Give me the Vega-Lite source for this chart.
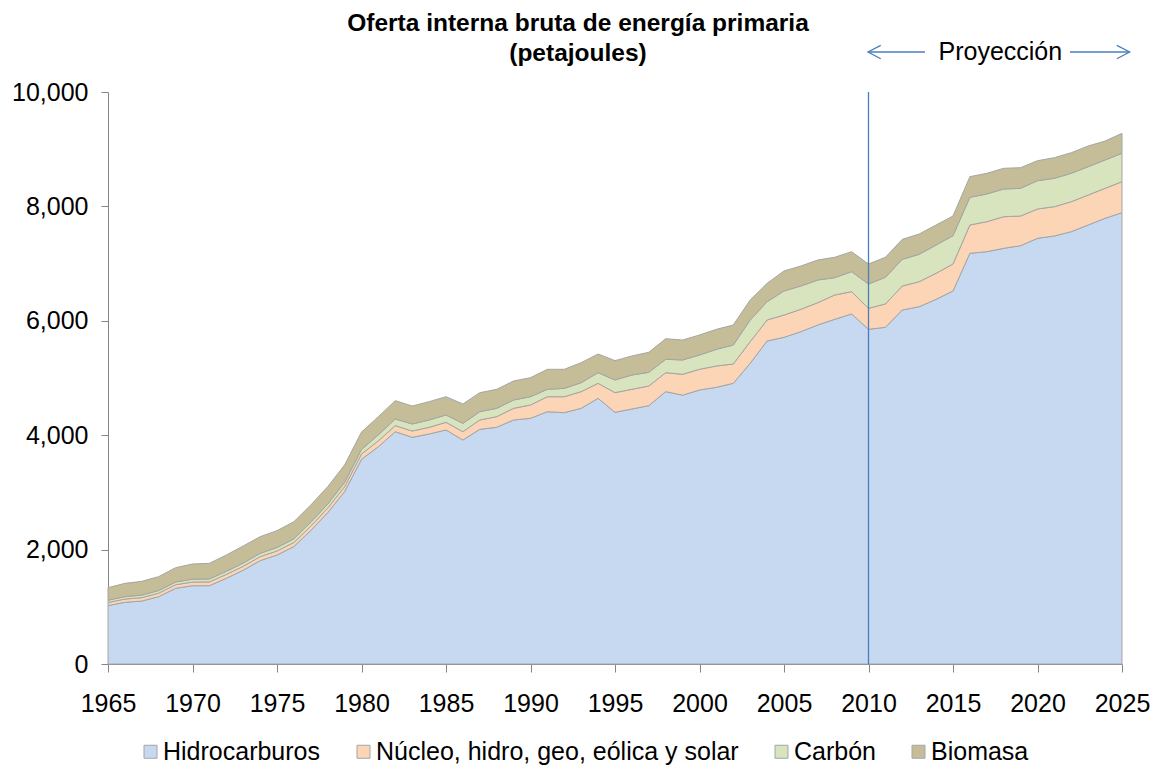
{
  "$schema": "https://vega.github.io/schema/vega-lite/v6.json",
  "width": 1014,
  "height": 572,
  "autosize": {"type": "none"},
  "padding": {"left": 108, "top": 92, "right": 35, "bottom": 108},
  "background": "white",
  "config": {"font": "Liberation Sans", "view": {"stroke": null}},
  "title": {
    "text": ["Oferta interna bruta de energía primaria", "(petajoules)"],
    "font": "Liberation Sans",
    "fontSize": 24.5,
    "fontWeight": "bold",
    "color": "black",
    "anchor": "middle",
    "dx": -37,
    "dy": 52,
    "lineHeight": 30,
    "offset": 26
  },
  "datasets": {
    "energia": [
      {"anio":1965,"H":1020,"N":55,"C":40,"B":219},
      {"anio":1966,"H":1078,"N":57,"C":42,"B":233},
      {"anio":1967,"H":1101,"N":59,"C":44,"B":241},
      {"anio":1968,"H":1177,"N":61,"C":46,"B":243},
      {"anio":1969,"H":1323,"N":62,"C":48,"B":251},
      {"anio":1970,"H":1369,"N":64,"C":50,"B":265},
      {"anio":1971,"H":1369,"N":66,"C":52,"B":273},
      {"anio":1972,"H":1498,"N":68,"C":54,"B":285},
      {"anio":1973,"H":1640,"N":68,"C":56,"B":299},
      {"anio":1974,"H":1806,"N":70,"C":58,"B":292},
      {"anio":1975,"H":1906,"N":70,"C":60,"B":295},
      {"anio":1976,"H":2053,"N":72,"C":63,"B":300},
      {"anio":1977,"H":2335,"N":75,"C":67,"B":303},
      {"anio":1978,"H":2645,"N":80,"C":70,"B":305},
      {"anio":1979,"H":3014,"N":85,"C":75,"B":305},
      {"anio":1980,"H":3578,"N":93,"C":80,"B":304},
      {"anio":1981,"H":3799,"N":103,"C":105,"B":317},
      {"anio":1982,"H":4061,"N":106,"C":116,"B":321},
      {"anio":1983,"H":3963,"N":110,"C":123,"B":314},
      {"anio":1984,"H":4021,"N":117,"C":128,"B":320},
      {"anio":1985,"H":4091,"N":134,"C":128,"B":320},
      {"anio":1986,"H":3916,"N":145,"C":146,"B":338},
      {"anio":1987,"H":4103,"N":163,"C":145,"B":332},
      {"anio":1988,"H":4138,"N":186,"C":146,"B":332},
      {"anio":1989,"H":4266,"N":204,"C":145,"B":333},
      {"anio":1990,"H":4295,"N":233,"C":145,"B":333},
      {"anio":1991,"H":4411,"N":262,"C":129,"B":350},
      {"anio":1992,"H":4394,"N":279,"C":146,"B":333},
      {"anio":1993,"H":4470,"N":291,"C":157,"B":350},
      {"anio":1994,"H":4645,"N":262,"C":186,"B":327},
      {"anio":1995,"H":4400,"N":344,"C":221,"B":338},
      {"anio":1996,"H":4458,"N":344,"C":250,"B":333},
      {"anio":1997,"H":4516,"N":344,"C":239,"B":350},
      {"anio":1998,"H":4761,"N":332,"C":234,"B":360},
      {"anio":1999,"H":4700,"N":364,"C":251,"B":349},
      {"anio":2000,"H":4790,"N":362,"C":250,"B":350},
      {"anio":2001,"H":4837,"N":373,"C":291,"B":350},
      {"anio":2002,"H":4907,"N":338,"C":332,"B":350},
      {"anio":2003,"H":5257,"N":378,"C":379,"B":350},
      {"anio":2004,"H":5647,"N":367,"C":320,"B":321},
      {"anio":2005,"H":5711,"N":390,"C":420,"B":350},
      {"anio":2006,"H":5810,"N":391,"C":407,"B":350},
      {"anio":2007,"H":5927,"N":390,"C":396,"B":350},
      {"anio":2008,"H":6026,"N":425,"C":303,"B":356},
      {"anio":2009,"H":6119,"N":390,"C":350,"B":349},
      {"anio":2010,"H":5851,"N":367,"C":425,"B":350},
      {"anio":2011,"H":5886,"N":408,"C":466,"B":350},
      {"anio":2012,"H":6189,"N":419,"C":467,"B":349},
      {"anio":2013,"H":6247,"N":437,"C":478,"B":355},
      {"anio":2014,"H":6375,"N":455,"C":495,"B":350},
      {"anio":2015,"H":6521,"N":472,"C":495,"B":344},
      {"anio":2016,"H":7180,"N":495,"C":484,"B":361},
      {"anio":2017,"H":7208,"N":525,"C":484,"B":361},
      {"anio":2018,"H":7267,"N":553,"C":484,"B":362},
      {"anio":2019,"H":7313,"N":519,"C":484,"B":361},
      {"anio":2020,"H":7442,"N":513,"C":494,"B":350},
      {"anio":2021,"H":7483,"N":512,"C":496,"B":361},
      {"anio":2022,"H":7558,"N":524,"C":496,"B":361},
      {"anio":2023,"H":7675,"N":524,"C":495,"B":362},
      {"anio":2024,"H":7792,"N":524,"C":495,"B":332},
      {"anio":2025,"H":7890,"N":542,"C":496,"B":349}
    ],
    "series": [
      {"clave":"H","serie":"Hidrocarburos","orden":1},
      {"clave":"N","serie":"Núcleo, hidro, geo, eólica y solar","orden":2},
      {"clave":"C","serie":"Carbón","orden":3},
      {"clave":"B","serie":"Biomasa","orden":4}
    ]
  },
  "layer": [
    {
      "data": {"name": "energia"},
      "transform": [
        {"fold": ["H", "N", "C", "B"], "as": ["clave", "pj"]},
        {"lookup": "clave", "from": {"data": {"name": "series"}, "key": "clave", "fields": ["serie", "orden"]}}
      ],
      "mark": {"type": "area", "stroke": "#A5A5A5", "strokeWidth": 1, "opacity": 1, "interpolate": "linear"},
      "encoding": {
        "x": {
          "field": "anio", "type": "quantitative",
          "scale": {"domain": [1965, 2025], "nice": false, "zero": false},
          "axis": {
            "title": null, "values": [1965,1970,1975,1980,1985,1990,1995,2000,2005,2010,2015,2020,2025],
            "format": "d", "grid": false, "labelFontSize": 25, "labelColor": "black",
            "labelFont": "Liberation Sans",
            "domainColor": "#868686", "tickColor": "#868686", "tickSize": 8, "labelPadding": 19,
            "labelFlush": false, "labelOverlap": false
          }
        },
        "y": {
          "field": "pj", "type": "quantitative", "stack": "zero",
          "scale": {"domain": [0, 10000], "nice": false},
          "axis": {
            "title": null, "values": [0,2000,4000,6000,8000,10000], "format": ",.0f",
            "grid": false, "labelFontSize": 25, "labelColor": "black", "labelFont": "Liberation Sans",
            "domainColor": "#868686", "tickColor": "#868686", "tickSize": 7, "labelPadding": 13
          }
        },
        "color": {
          "field": "serie", "type": "nominal",
          "scale": {
            "domain": ["Hidrocarburos", "Núcleo, hidro, geo, eólica y solar", "Carbón", "Biomasa"],
            "range": ["#C7D9F0", "#FBD5B5", "#D8E4BE", "#C4BD97"]
          },
          "legend": {
            "title": null, "orient": "none", "direction": "horizontal", "columns": 4,
            "legendX": 30, "legendY": 647, "padding": 0,
            "labelFontSize": 25, "labelColor": "black", "labelFont": "Liberation Sans",
            "symbolType": "square", "symbolSize": 169, "symbolStrokeColor": "#A5A5A5", "symbolStrokeWidth": 1,
            "columnPadding": 30, "labelOffset": 0, "labelLimit": 500
          }
        },
        "order": {"field": "orden", "type": "quantitative", "sort": "ascending"}
      }
    },
    {
      "data": {"values": [{}]},
      "mark": {"type": "rule", "color": "#4A7EBB", "strokeWidth": 1.3},
      "encoding": {"x": {"datum": 2010, "type": "quantitative"}}
    },
    {
      "data": {"values": [{}]},
      "mark": {"type": "text", "text": "Proyección", "fontSize": 25, "font": "Liberation Sans", "color": "black", "align": "center", "baseline": "middle", "clip": false},
      "encoding": {"x": {"datum": 2017.8, "type": "quantitative"}, "y": {"datum": 10699, "type": "quantitative"}}
    },
    {
      "data": {"values": [{}]},
      "mark": {"type": "rule", "color": "#4A7EBB", "strokeWidth": 1.3, "clip": false},
      "encoding": {"x": {"datum": 2009.97, "type": "quantitative"}, "x2": {"datum": 2013.34}, "y": {"datum": 10699, "type": "quantitative"}}
    },
    {
      "data": {"values": [{}]},
      "mark": {"type": "rule", "color": "#4A7EBB", "strokeWidth": 1.3, "clip": false},
      "encoding": {"x": {"datum": 2021.92, "type": "quantitative"}, "x2": {"datum": 2025.45}, "y": {"datum": 10699, "type": "quantitative"}}
    },
    {
      "data": {"values": [{}]},
      "mark": {"type": "point", "shape": "M1.9,-1L0,0L1.9,1", "size": 180, "filled": false, "stroke": "#4A7EBB", "strokeWidth": 1.3, "opacity": 1, "clip": false},
      "encoding": {"x": {"datum": 2009.97, "type": "quantitative"}, "y": {"datum": 10699, "type": "quantitative"}}
    },
    {
      "data": {"values": [{}]},
      "mark": {"type": "point", "shape": "M-1.9,-1L0,0L-1.9,1", "size": 180, "filled": false, "stroke": "#4A7EBB", "strokeWidth": 1.3, "opacity": 1, "clip": false},
      "encoding": {"x": {"datum": 2025.45, "type": "quantitative"}, "y": {"datum": 10699, "type": "quantitative"}}
    }
  ]
}
